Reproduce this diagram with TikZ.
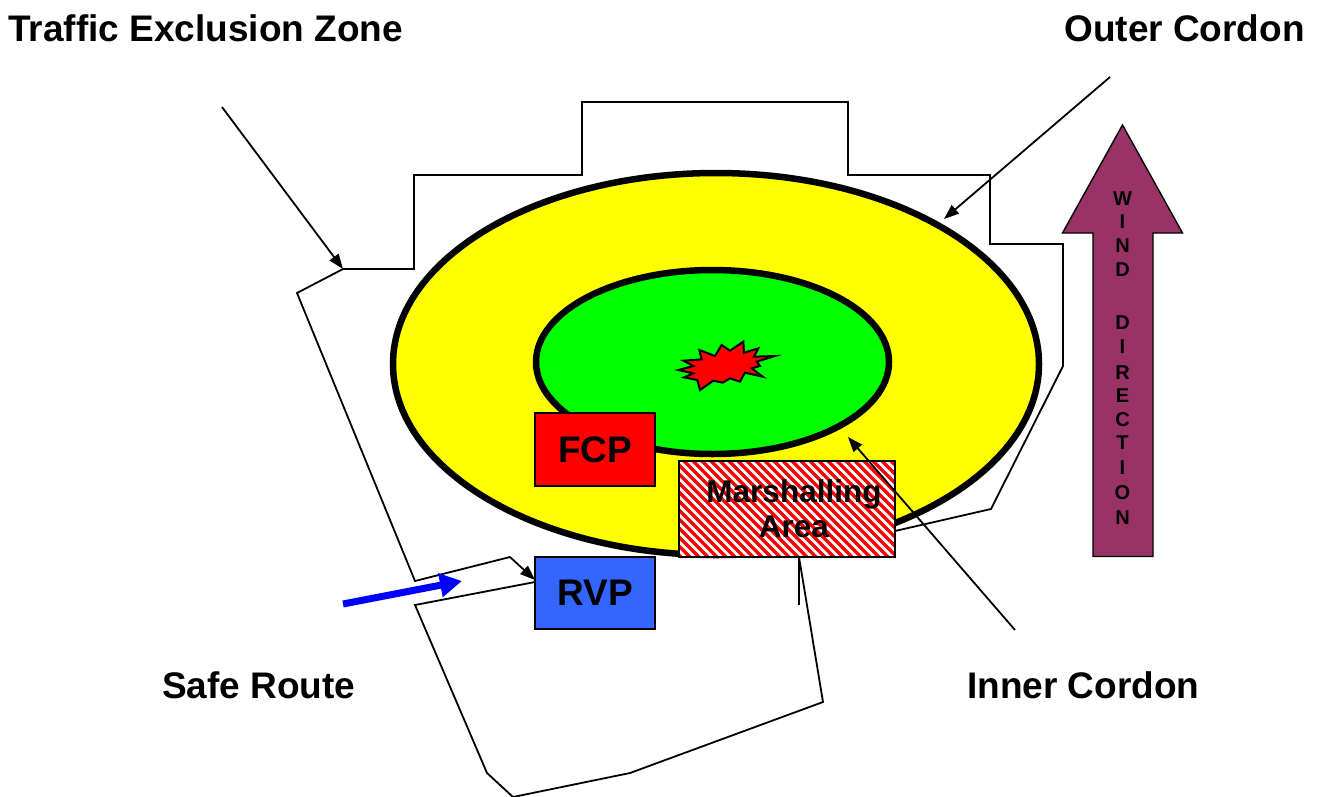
\documentclass[tikz,border=0pt]{standalone}
\usepackage{fontspec}
\setmainfont{Liberation Sans}
\usetikzlibrary{arrows.meta}

\definecolor{warmzone}{RGB}{255,255,0}
\definecolor{hotzone}{RGB}{0,255,0}
\definecolor{fcpred}{RGB}{255,0,0}
\definecolor{rvpblue}{RGB}{51,102,255}
\definecolor{windplum}{RGB}{153,51,102}
\definecolor{routeblue}{RGB}{0,0,255}

\begin{document}
\begin{tikzpicture}[x=1pt,y=-1pt,
  caption/.style={font=\fontsize{37}{44}\selectfont\bfseries, inner sep=0pt},
  boundary/.style={draw=black, line width=1.8pt, line join=miter},
  pointer/.style={draw=black, line width=1.8pt, -{Triangle[length=15pt,width=11pt]}},
  cordon/.style={draw=black, line width=6.5pt},
  post/.style={draw=black, line width=1.4pt, minimum width=120pt, minimum height=73pt,
               inner sep=0pt, font=\fontsize{37}{44}\selectfont\bfseries},
  windletter/.style={font=\fontsize{20}{20}\selectfont\bfseries, inner sep=0pt}]

\useasboundingbox (0,0) rectangle (1317,796);
\fill[white] (0,0) rectangle (1317,796);

% ---------- key points ----------
\coordinate (tezcorner) at (343,269);
\coordinate (rvpentry) at (510,557);
\coordinate (rvpcorner) at (535,580);
\coordinate (mabottom) at (799,557);

% ---------- traffic exclusion zone ----------
\draw[boundary] (895,531) -- (991,509) -- (1063,366) -- (1063,244) -- (990,244)
  -- (990,175) -- (848,175) -- (848,102) -- (582,102) -- (582,175) -- (414,175)
  -- (414,269) -- (tezcorner) -- (297,293) -- (415,581) -- (rvpentry);
\draw[boundary] (535,582) -- (415,605) -- (487,773) -- (513,797) -- (630,773)
  -- (823,702) -- (mabottom);
\draw[boundary] (mabottom) -- (799,605);

% ---------- cordons ----------
\draw[cordon, fill=warmzone] (716,364) ellipse [x radius=323, y radius=191];
\draw[cordon, fill=hotzone] (712.5,362) ellipse [x radius=176.5, y radius=92];

% ---------- incident ----------
\begin{scope}[shift={(660,330)}, x=0.3333pt, y=-0.3333pt]
  \draw[fill=fcpred, line width=2pt, line join=miter]
    (55,120) -- (100,108) -- (70,92) -- (125,88) -- (118,60) -- (165,78)
    -- (185,45) -- (210,62) -- (250,35) -- (252,68) -- (295,55) -- (282,80)
    -- (345,78) -- (290,95) -- (300,108) -- (275,115) -- (308,140) -- (255,128)
    -- (240,155) -- (210,145) -- (188,158) -- (160,152) -- (120,180) -- (112,150)
    -- (72,142) -- (100,130) -- cycle;
\end{scope}

% ---------- forward control point ----------
\node[post, fill=fcpred] (fcp) at (595,449.5) {FCP};

% ---------- marshalling area (hatched) ----------
\begin{scope}
  \clip (679,461) rectangle (895,557);
  \fill[white] (679,461) rectangle (895,557);
  \foreach \k in {570,579,...,905}
    \draw[fcpred, line width=3.2pt] (\k,455) -- ++(110,110);
\end{scope}
\draw[line width=1.4pt] (679,461) rectangle (895,557);
\node[inner sep=0pt, align=center, font=\fontsize{31.5}{35}\selectfont\bfseries]
  (ma) at (794,509) {Marshalling\\Area};

% ---------- rendezvous point ----------
\node[post, fill=rvpblue, minimum height=72pt] (rvp) at (595,593) {RVP};

% ---------- wind direction ----------
\draw[fill=windplum, line width=1.4pt, line join=miter]
  (1093,556.5) -- (1093,233) -- (1062.5,233) -- (1122.5,125) -- (1182.5,233)
  -- (1153,233) -- (1153,556.5) -- cycle;
\foreach \c/\yy in {W/199, I/222, N/246, D/270, D/323, I/347, R/373, E/396,
                    C/420, T/443, I/468, O/493, N/518}
  \node[windletter] at (1122.5,\yy) {\c};

% ---------- captions ----------
\node[caption, anchor=west] (teztext) at (8,28) {Traffic Exclusion Zone};
\node[caption, anchor=east] (octext) at (1305,28) {Outer Cordon};
\node[caption, anchor=west] (srtext) at (162,685) {Safe Route};
\node[caption, anchor=west] (ictext) at (967,685) {Inner Cordon};

% ---------- pointers ----------
\coordinate (tezfrom) at (222,107);
\coordinate (ocfrom) at (1110,77);
\coordinate (octo) at (944,219);
\coordinate (icfrom) at (1015,630);
\coordinate (icto) at (848,437);
\draw[pointer] (tezfrom) -- (tezcorner);
\draw[pointer] (ocfrom) -- (octo);
\draw[pointer] (icfrom) -- (icto);
\draw[pointer] (rvpentry) -- (rvpcorner);

% ---------- safe route ----------
\coordinate (srfrom) at (343,604);
\coordinate (srto) at (462,581);
\draw[routeblue, line width=7pt, -{Triangle[length=22pt,width=23pt]}] (srfrom) -- (srto);

\end{tikzpicture}
\end{document}
